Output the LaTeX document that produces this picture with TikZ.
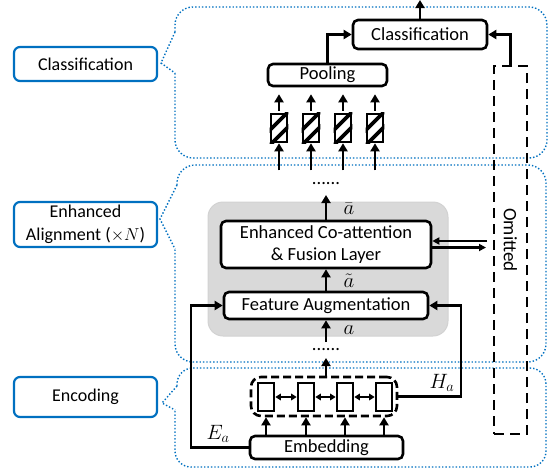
\documentclass[tikz,border=0pt]{standalone}
\usepackage{fontspec}
\setmainfont{Carlito}
\usetikzlibrary{arrows.meta,calc}
\definecolor{ppblue}{RGB}{0,112,192}
\definecolor{ppgray}{RGB}{217,217,217}
\tikzset{
  blk/.style={draw, line width=2.6pt, rounded corners=5pt, fill=white, inner sep=0pt, align=center, font=\fontsize{18.5}{22}\selectfont},
  lbl/.style={draw=ppblue, line width=2.2pt, rounded corners=6pt, fill=white, minimum width=143pt, inner sep=0pt, align=center, font=\fontsize{18}{23}\selectfont},
  region/.style={draw=ppblue, dotted, line width=1.4pt},
  arr/.style={line width=2.6pt, -{Triangle[length=8pt,width=9pt]}},
  darr/.style={line width=1.8pt, {Triangle[length=5.5pt,width=6.5pt]}-{Triangle[length=5.5pt,width=6.5pt]}},
  cell/.style={draw, line width=2.6pt, fill=white, minimum width=16pt, minimum height=28pt, inner sep=0pt},
  mlbl/.style={inner sep=0pt, font=\fontsize{20}{24}\selectfont},
  dots/.style={anchor=base, inner sep=0pt, font=\fontsize{18.5}{22}\selectfont}
}

\begin{document}
\begin{tikzpicture}[x=1pt,y=-1pt]
			%%%%% START %%%%%
			\useasboundingbox (0,0) rectangle (552,472);

			% dotted braces
			\draw[region, rounded corners=18pt] (175,32) -- (175,7) -- (547,7) -- (547,158) -- (175,158) -- (175,73);
			\draw[region] (175,32) -- (161,63) -- (175,73);
			\draw[region, rounded corners=18pt] (177,185) -- (177,165) -- (546,165) -- (546,362) -- (175,362) -- (175,249);
			\draw[region] (177,185) -- (160,219) -- (175,249);
			\draw[region, rounded corners=16pt] (177,386) -- (177,368) -- (546,368) -- (546,467) -- (175,467) -- (175,410);
			\draw[region] (177,386) -- (162,403) -- (175,410);

			\node[lbl, minimum height=34pt] (lcls) at (85.5,64) {Classification};
			\node[lbl, minimum height=45pt] (lenh) at (85.5,224.5) {Enhanced\\Alignment (${\times}N$)};
			\node[lbl, minimum height=40pt] (lenc) at (85.5,397) {Encoding};

			% classification part
			\node[blk, minimum width=134pt, minimum height=29pt] (cls) at (420,34.5) {Classification};
			\node[blk, minimum width=119pt, minimum height=22pt] (pool) at (327.5,75) {Pooling};
			\node[draw, line width=2.6pt, dash pattern=on 10pt off 6pt, minimum width=33pt, minimum height=368pt] (omit) at (510.5,250) {};
			\node[rotate=-90, inner sep=0pt, font=\fontsize{19}{22}\selectfont] (omtxt) at (510.5,240) {Omitted};

			\coordinate (clsout) at (420,0);
			\draw[arr] (cls.north) -- (clsout);
			\draw[arr] (pool.north) |- (cls.west);
			\draw[arr] (omit.north) |- (cls.east);

			\foreach \n/\x in {1/279,2/311,3/343,4/375}{
				\node[cell] (h\n) at (\x,128) {};
				\begin{scope}
					\clip (h\n.south west) rectangle (h\n.north east);
					\draw[line width=3.6pt] ($(h\n)+(-15,8)$) -- ($(h\n)+(15,-22)$);
					\draw[line width=3.6pt] ($(h\n)+(-15,23)$) -- ($(h\n)+(15,-7)$);
				\end{scope}
				\draw[arr] ([yshift=2pt]h\n.north) -- ([yshift=-7pt]pool.south -| h\n);
				\draw[arr] ([yshift=-27pt]h\n.south) -- (h\n.south);
			}

			% alignment part
			\node[dots] (dtop) at (326,184) {......};
			\node[fill=ppgray, draw=gray!35, line width=1pt, rounded corners=15pt, minimum width=240pt, minimum height=134pt] (grp) at (328,269) {};
			\node[blk, minimum width=210pt, minimum height=47pt] (eca) at (326,244.5) {Enhanced Co-attention\\\& Fusion Layer};
			\node[blk, minimum width=204pt, minimum height=27pt] (fa) at (326,305.5) {Feature Augmentation};

			\coordinate (ecaout) at (326,195);
			\draw[arr] (eca.north) -- (ecaout);
			\node[mlbl] (abar) at (349,209) {$\bar{a}$};
			\draw[arr] (fa.north) -- (eca.south);
			\node[mlbl] (atil) at (349,281) {$\tilde{a}$};
			\coordinate (ain) at (326,342);
			\draw[arr] (ain) -- (fa.south);
			\node[mlbl] (aplain) at (349,330) {$a$};

			\coordinate (om1) at (487,241);
			\coordinate (om2) at (486,247.5);
			\draw[line width=2.2pt, -{Triangle[length=7pt,width=7pt]}] (om1) -- (eca.east |- om1);
			\draw[line width=2.2pt, -{Triangle[length=7pt,width=7pt]}] (eca.east |- om2) -- (om2);

			% encoding part
			\node[dots] (dbot) at (326,350) {......};
			\node[draw, line width=2.6pt, dash pattern=on 8pt off 4pt, rounded corners=10pt, minimum width=146pt, minimum height=39pt] (bil) at (324,396.5) {};
			\foreach \n/\x in {1/266,2/306,3/345,4/384}{
				\node[cell] (c\n) at (\x,397) {};
			}
			\draw[darr] (c1.east) -- (c2.west);
			\draw[darr] (c2.east) -- (c3.west);
			\draw[darr] (c3.east) -- (c4.west);
			\node[blk, minimum width=153pt, minimum height=23pt] (emb) at (326.5,447.5) {Embedding};
			\foreach \n in {1,...,4}{
				\draw[arr] (emb.north -| c\n) -- (bil.south -| c\n);
			}
			\coordinate (bilout) at (326,358);
			\draw[arr] (bil.north -| fa.south) -- (bilout);

			\coordinate (ea) at (191,447.5);
			\draw[arr] (emb.west) -- (ea) |- (fa.west);
			\node[mlbl] (lea) at (218,434) {$E_a$};
			\coordinate (ha) at (461,396.5);
			\draw[arr] (bil.east) -- (ha) |- (fa.east);
			\node[mlbl] (lha) at (442,383) {$H_a$};
			%%%%% END %%%%%
\end{tikzpicture}
\end{document}
